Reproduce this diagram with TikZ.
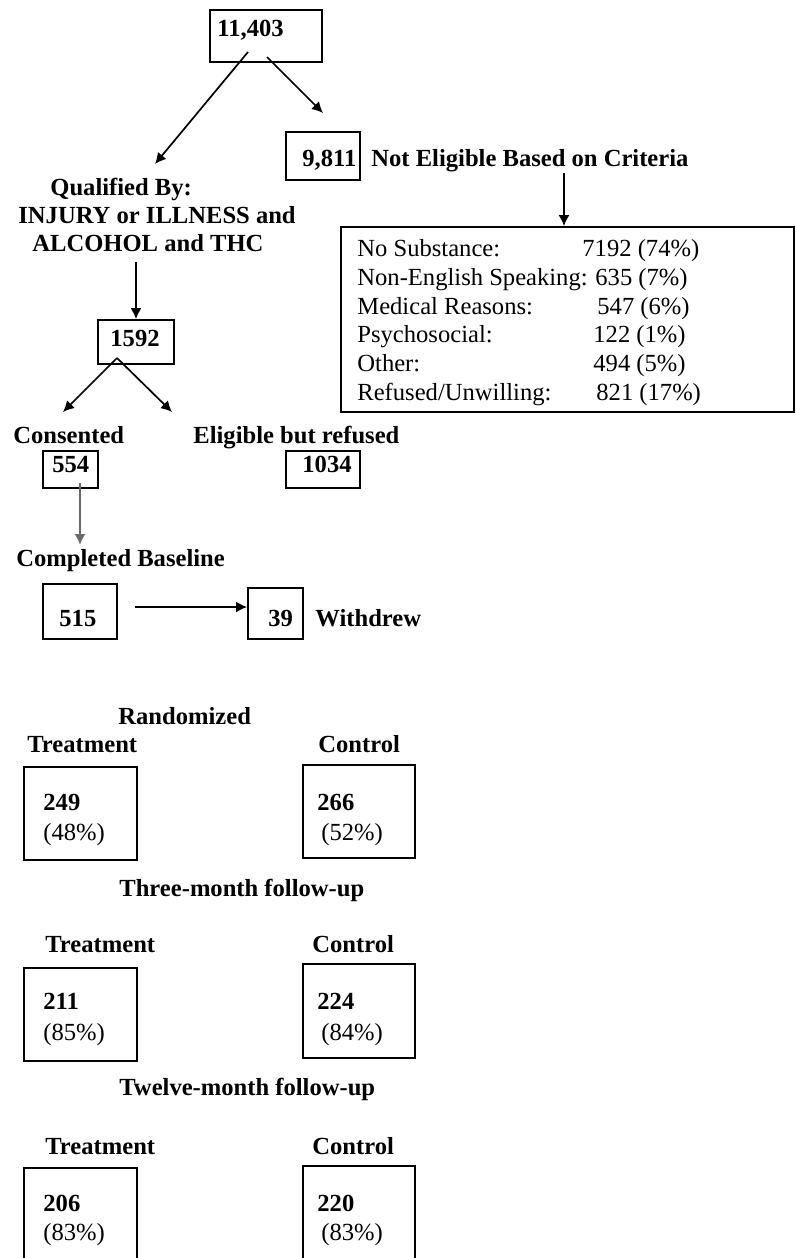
\documentclass[tikz,border=0pt]{standalone}
\usepackage{fontspec}
\setmainfont{Liberation Serif}
\usetikzlibrary{arrows.meta,fit}
\definecolor{arrgray}{RGB}{105,105,105}
\tikzset{
  boxx/.style={draw, line width=0.9pt, inner sep=0pt, rectangle},
  bt/.style={font=\fontsize{12.3}{15}\selectfont\bfseries, inner sep=0pt, anchor=base west},
  rt/.style={font=\fontsize{12.3}{15}\selectfont, inner sep=0pt, anchor=base west},
  arr/.style={line width=0.85pt, -{Latex[length=5.5pt,width=5.5pt]}},
}
\begin{document}
\begin{tikzpicture}[x={(0.5pt,0)}, y={(0,-0.5pt)}]
\clip (0,0) rectangle (796,1258);
\fill[white] (0,0) rectangle (796,1258);

% top box
\node[boxx, fit={(210,10)(322,62)}] (bA) {};
\node[bt] (tA) at (217,36) {11,403};

% 9,811
\node[boxx, fit={(286,132)(360,180)}] (bB) {};
\node[bt] (tB) at (302,166) {9,811};
\node[bt] (tNE) at (371,166) {Not Eligible Based on Criteria};

\coordinate (a1s) at (248,52);
\coordinate (a1e) at (155,164);
\coordinate (a2s) at (267,57);
\coordinate (a2e) at (323,113);
\draw[arr] (a1s) -- (a1e);
\draw[arr] (a2s) -- (a2e);

% list box
\node[boxx, fit={(341,227)(794,412)}] (bL) {};
\coordinate (nes) at (564,173);
\draw[arr] (nes) -- (nes |- bL.north);

\node[rt] (l1) at (357,256) {No Substance:};
\node[rt] (v1) at (582,256) {7192 (74\%)};
\node[rt] (l2) at (357,285) {Non-English Speaking:};
\node[rt] (v2) at (595,285) {635 (7\%)};
\node[rt] (l3) at (357,314) {Medical Reasons:};
\node[rt] (v3) at (597,314) {547 (6\%)};
\node[rt] (l4) at (357,342) {Psychosocial:};
\node[rt] (v4) at (593,342) {122 (1\%)};
\node[rt] (l5) at (357,371) {Other:};
\node[rt] (v5) at (593,371) {494 (5\%)};
\node[rt] (l6) at (357,400) {Refused/Unwilling:};
\node[rt] (v6) at (596,400) {821 (17\%)};

% qualified
\node[bt] (q1) at (50,195) {Qualified By:};
\node[bt] (q2) at (18,223) {INJURY or ILLNESS and};
\node[bt] (q3) at (32,251) {ALCOHOL and THC};

% 1592
\node[boxx, fit={(98,320)(174,364)}] (bC) {};
\node[bt] (tC) at (110,346) {1592};
\coordinate (qs) at (136,262);
\draw[arr] (qs) -- (bC.north);

\coordinate (fk) at (117,358);
\coordinate (fl) at (63,412);
\coordinate (fr) at (172,412);
\draw[arr] (fk) -- (fl);
\draw[arr] (fk) -- (fr);

\node[bt] (tCons) at (13,443) {Consented};
\node[bt] (tElig) at (193,443) {Eligible but refused};

\node[boxx, fit={(43,451)(98,488)}] (bD) {};
\node[bt] (tD) at (52,472) {554};
\node[boxx, fit={(286,451)(360,488)}] (bE) {};
\node[bt] (tE) at (302,472) {1034};

\coordinate (gs) at (80,483);
\coordinate (ge) at (80,545);
\draw[arr, line width=1.1pt, draw=arrgray, fill=arrgray] (gs) -- (ge);

\node[bt] (tCB) at (16,566) {Completed Baseline};

\node[boxx, fit={(43,584)(117,639)}] (bF) {};
\node[bt] (tF) at (59,626) {515};
\node[boxx, fit={(248,588)(303,639)}] (bG) {};
\node[bt] (tG) at (268,626) {39};
\node[bt] (tW) at (315,626) {Withdrew};
\coordinate (ws) at (135,607);
\draw[arr] (ws) -- (ws -| bG.west);

% randomized
\node[bt] (tR) at (118,724) {Randomized};
\node[bt] (tT1) at (27,752) {Treatment};
\node[bt] (tC1) at (318,752) {Control};
\node[boxx, fit={(24,767)(137,860)}] (bT1) {};
\node[boxx, fit={(303,765)(415,858)}] (bC1) {};
\node[bt] (n1) at (43,810) {249};
\node[rt] (p1) at (43,840) {(48\%)};
\node[bt] (n2) at (317,810) {266};
\node[rt] (p2) at (321,840) {(52\%)};

% three-month
\node[bt] (t3m) at (119,896) {Three-month follow-up};
\node[bt] (tT2) at (45,952) {Treatment};
\node[bt] (tC2) at (312,952) {Control};
\node[boxx, fit={(24,968)(137,1061)}] (bT2) {};
\node[boxx, fit={(303,964)(415,1058)}] (bC2) {};
\node[bt] (n3) at (43,1009) {211};
\node[rt] (p3) at (43,1040) {(85\%)};
\node[bt] (n4) at (317,1009) {224};
\node[rt] (p4) at (321,1040) {(84\%)};

% twelve-month
\node[bt] (t12m) at (119,1095) {Twelve-month follow-up};
\node[bt] (tT3) at (45,1154) {Treatment};
\node[bt] (tC3) at (312,1154) {Control};
\node[boxx, fit={(24,1168)(137,1275)}] (bT3) {};
\node[boxx, fit={(303,1166)(415,1275)}] (bC3) {};
\node[bt] (n5) at (43,1211) {206};
\node[rt] (p5) at (43,1240) {(83\%)};
\node[bt] (n6) at (317,1211) {220};
\node[rt] (p6) at (321,1240) {(83\%)};
\end{tikzpicture}
\end{document}
